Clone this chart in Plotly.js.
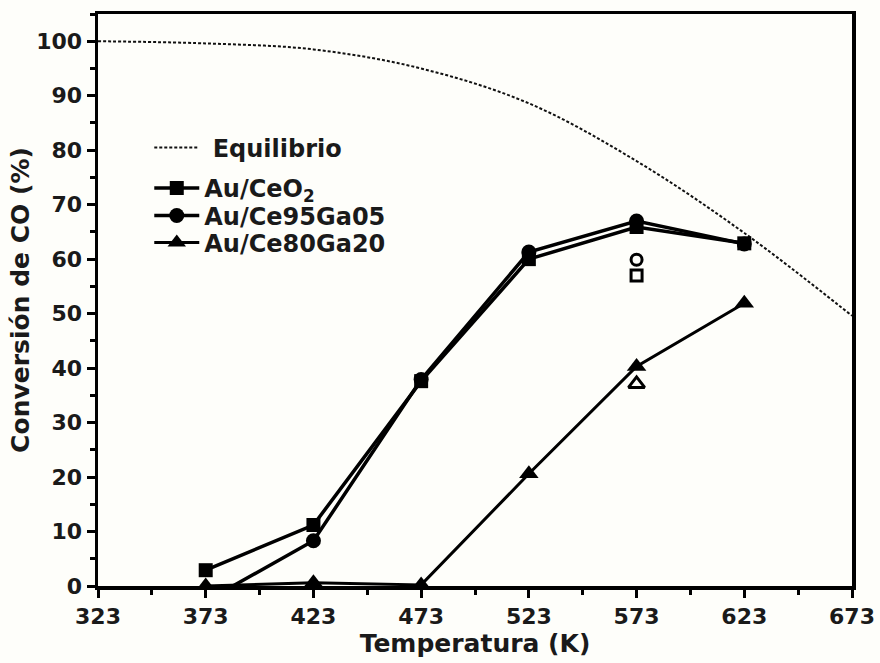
<!DOCTYPE html>
<html>
<head>
<meta charset="utf-8">
<script src="https://cdn.plot.ly/plotly-3.0.1.min.js"></script>
<style>
  html, body { margin: 0; padding: 0; background: #fefefa; }
  #chart { width: 880px; height: 663px; }
</style>
</head>
<body>
<div id="chart"></div>
<script>
// Temperature points (K)
const temps = [373, 423, 473, 523, 573, 623];

// Thermodynamic equilibrium conversion curve
const eqTemps = [323, 373, 423, 473, 523, 573, 623, 673];
const eqConv = [100, 99.6, 98.5, 95.0, 88.6, 78.0, 64.8, 49.6];

// CO conversion (%) for each catalyst
const convCeO2 = [2.9, 11.2, 37.6, 60.0, 65.9, 62.9];
const convCe95Ga05 = [-2.8, 8.3, 37.9, 61.3, 67.0, 62.8];
const convCe80Ga20 = [0.0, 0.6, 0.2, 20.6, 40.3, 51.9];

// Repeat measurements at 573 K (open symbols)
const repTemp = [573];
const repCeO2 = [57.0];
const repCe95Ga05 = [59.9];
const repCe80Ga20 = [37.1];

// Axis ticks
const xTicks = [323, 373, 423, 473, 523, 573, 623, 673];
const yTicks = [0, 10, 20, 30, 40, 50, 60, 70, 80, 90, 100];

const FONT = 'DejaVu Sans, Arial, sans-serif';
const INK = '#1a1a1a';

const traces = [
  {
    x: eqTemps, y: eqConv, name: '\u00a0Equilibrio', mode: 'lines', legend: 'legend',
    line: { color: '#111', width: 2, dash: '3px,2px', shape: 'spline' }
  },
  {
    x: temps, y: convCeO2, name: 'Au/CeO<sub>2</sub>', mode: 'lines+markers', legend: 'legend2',
    line: { color: '#000', width: 3.5 },
    marker: { symbol: 'square', size: 14, color: '#000' }
  },
  {
    x: temps, y: convCe95Ga05, name: 'Au/Ce95Ga05', mode: 'lines+markers', legend: 'legend3',
    line: { color: '#000', width: 3.5 },
    marker: { symbol: 'circle', size: 15, color: '#000' }
  },
  {
    x: temps, y: convCe80Ga20, name: 'Au/Ce80Ga20', mode: 'lines+markers', legend: 'legend4',
    line: { color: '#000', width: 3 },
    marker: { symbol: 'triangle-up', size: 17, color: '#000' }
  },
  {
    x: repTemp, y: repCeO2, mode: 'markers', showlegend: false,
    marker: { symbol: 'square-open', size: 11, color: '#000', line: { width: 3, color: '#000' } }
  },
  {
    x: repTemp, y: repCe95Ga05, mode: 'markers', showlegend: false,
    marker: { symbol: 'circle-open', size: 11, color: '#000', line: { width: 3, color: '#000' } }
  },
  {
    x: repTemp, y: repCe80Ga20, mode: 'markers', showlegend: false,
    marker: { symbol: 'triangle-up-open', size: 14, color: '#000', line: { width: 3, color: '#000' } }
  }
];

const axisCommon = {
  showline: true, linecolor: '#000', linewidth: 3.5, mirror: true,
  ticks: 'outside', ticklen: 8, tickwidth: 3, tickcolor: '#000',
  showgrid: false, zeroline: false,
  tickfont: { family: FONT, size: 22, color: INK, weight: 'bold' }
};

// One legend box per entry so each row sits at its own height
function legendAt(y) {
  return {
    x: 0.068, y: y, xanchor: 'left', yanchor: 'middle',
    bgcolor: 'rgba(0,0,0,0)', borderwidth: 0,
    font: { family: FONT, size: 24, color: INK, weight: 'bold' },
    itemwidth: 45
  };
}

const layout = {
  width: 880, height: 663,
  paper_bgcolor: '#fefefa', plot_bgcolor: '#fefefa',
  margin: { l: 98, r: 28, t: 14, b: 77 },
  font: { family: FONT, color: INK },
  showlegend: true,
  legend: legendAt(0.766),
  legend2: legendAt(0.695),
  legend3: legendAt(0.647),
  legend4: legendAt(0.600),
  xaxis: Object.assign({}, axisCommon, {
    range: [323, 673], tickvals: xTicks, ticktext: xTicks.map(String),
    minor: { dtick: 25, tick0: 323, ticks: 'outside', ticklen: 5, tickwidth: 3, tickcolor: '#000' },
    title: { text: 'Temperatura (K)', standoff: 4,
      font: { family: FONT, size: 25, color: INK, weight: 'bold' } }
  }),
  yaxis: Object.assign({}, axisCommon, {
    range: [0, 105], tickvals: yTicks, ticktext: yTicks.map(String),
    minor: { dtick: 5, tick0: 0, ticks: 'outside', ticklen: 5, tickwidth: 3, tickcolor: '#000' },
    title: { text: 'Conversión de CO (%)', standoff: 0,
      font: { family: FONT, size: 25, color: INK, weight: 'bold' } }
  })
};

Plotly.newPlot('chart', traces, layout, { displayModeBar: false, staticPlot: true });
</script>
</body>
</html>
